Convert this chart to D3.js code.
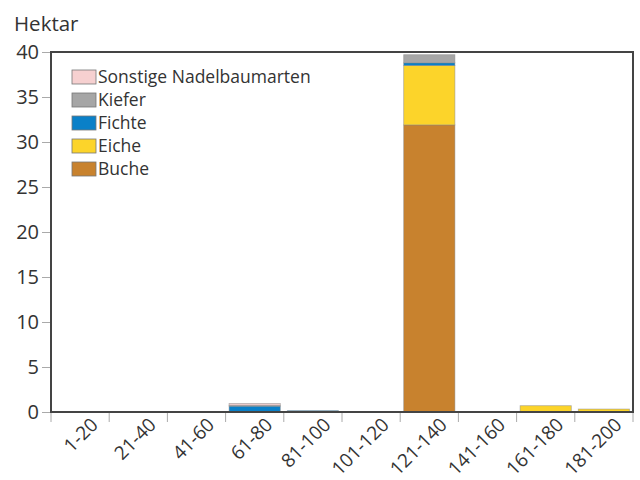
<!DOCTYPE html>
<html>
<head>
<meta charset="utf-8">
<script src="https://d3js.org/d3.v7.min.js"></script>
<style>
body { margin: 0; background: #fff; }
text { font-family: "Open Sans", sans-serif; fill: #333; }
</style>
</head>
<body>
<script>
const width = 640
const height = 480
const margin = ({top: 52, right: 7, bottom: 68, left: 51})

// Altersklassen (Jahre)
const classes = ["1-20", "21-40", "41-60", "61-80", "81-100", "101-120", "121-140", "141-160", "161-180", "181-200"]
const species = ["Buche", "Eiche", "Fichte", "Kiefer", "Sonstige Nadelbaumarten"]
const colors = ["#c8822e", "#fcd42a", "#0a80c8", "#a6a6a6", "#f6d0d0"]

const buche    = [0, 0, 0, 0,    0,    0, 31.9, 0, 0,   0]
const eiche    = [0, 0, 0, 0,    0,    0, 6.6,  0, 0.7, 0.33]
const fichte   = [0, 0, 0, 0.65, 0.15, 0, 0.3,  0, 0,   0]
const kiefer   = [0, 0, 0, 0.1,  0,    0, 0.9,  0, 0,   0]
const sonstige = [0, 0, 0, 0.2,  0,    0, 0,    0, 0,   0]

const yTicks = [0, 5, 10, 15, 20, 25, 30, 35, 40]

const rows = classes.map((c, i) => ({
    klasse: c,
    "Buche": buche[i],
    "Eiche": eiche[i],
    "Fichte": fichte[i],
    "Kiefer": kiefer[i],
    "Sonstige Nadelbaumarten": sonstige[i]
}))

const series = d3.stack().keys(species)(rows)

const x = d3.scaleBand()
    .domain(classes)
    .range([margin.left, width - margin.right])
    .paddingInner(0.12)
    .paddingOuter(0.06)

const xb = d3.scaleBand()
    .domain(classes)
    .range([margin.left, width - margin.right])

const y = d3.scaleLinear()
    .domain([0, 40])
    .range([height - margin.bottom, margin.top])

const color = d3.scaleOrdinal().domain(species).range(colors)

const svg = d3.select("body").append("svg")
    .attr("width", width)
    .attr("height", height)

// bars
svg.append("g")
    .selectAll("g")
    .data(series)
    .join("g")
        .attr("fill", d => color(d.key))
    .selectAll("rect")
    .data(d => d.filter(s => s[1] - s[0] > 0))
    .join("rect")
        .attr("x", d => x(d.data.klasse))
        .attr("width", x.bandwidth())
        .attr("y", d => y(d[1]))
        .attr("height", d => y(d[0]) - y(d[1]))
        .attr("stroke", "#8a8a8a")
        .attr("stroke-opacity", 0.6)
        .attr("stroke-width", 0.8)

// y axis
const yAxis = svg.append("g")
    .attr("transform", `translate(${margin.left},0)`)
    .call(d3.axisLeft(y).tickValues(yTicks).tickSize(9).tickPadding(3))
yAxis.select(".domain").remove()
yAxis.selectAll(".tick line").attr("stroke", "#aaa")
yAxis.selectAll(".tick text")
    .style("font-size", "20px")
    .attr("fill", "#333")

// x axis ticks at class boundaries
const bounds = classes.map(c => xb(c)).concat([width - margin.right])
svg.append("g")
    .selectAll("line")
    .data(bounds)
    .join("line")
        .attr("x1", d => d).attr("x2", d => d)
        .attr("y1", height - margin.bottom)
        .attr("y2", height - margin.bottom + 10)
        .attr("stroke", "#aaa")

svg.append("g")
    .selectAll("text")
    .data(classes)
    .join("text")
        .attr("transform", d => `translate(${xb(d) + xb.bandwidth() / 2 + 19},${height - margin.bottom + 14}) rotate(-45)`)
        .attr("text-anchor", "end")
        .style("font-size", "19px")
        .text(d => d)

// frame
svg.append("rect")
    .attr("x", margin.left)
    .attr("y", margin.top)
    .attr("width", width - margin.left - margin.right)
    .attr("height", height - margin.top - margin.bottom)
    .attr("fill", "none")
    .attr("stroke", "#444")
    .attr("stroke-width", 2)

// unit label
svg.append("text")
    .attr("x", 14)
    .attr("y", 31)
    .style("font-size", "20.5px")
    .text("Hektar")

// legend
const legend = svg.append("g")
    .selectAll("g")
    .data(species.slice().reverse())
    .join("g")
        .attr("transform", (d, i) => `translate(72,${70 + i * 23})`)

legend.append("rect")
    .attr("width", 24)
    .attr("height", 14)
    .attr("fill", d => color(d))
    .attr("stroke", "#777")
    .attr("stroke-width", 0.8)

legend.append("text")
    .attr("x", 26)
    .attr("y", 7)
    .attr("dy", "0.35em")
    .style("font-size", "17.5px")
    .text(d => d)
</script>
</body>
</html>
